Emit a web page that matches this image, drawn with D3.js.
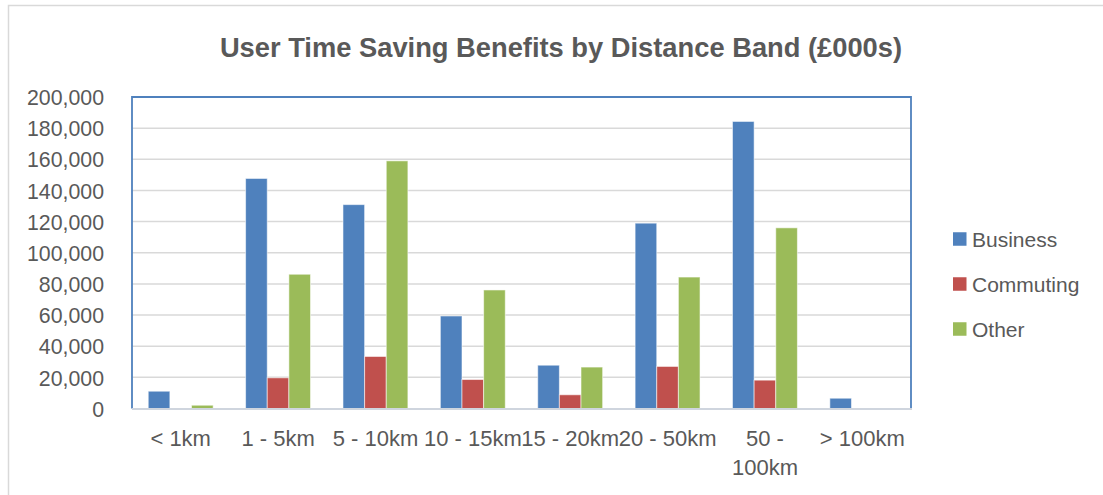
<!DOCTYPE html>
<html>
<head>
<meta charset="utf-8">
<script src="https://cdn.jsdelivr.net/npm/d3@7"></script>
<style>
  html, body { margin: 0; padding: 0; background: #fff; }
  svg { display: block; font-family: "Liberation Sans", Arial, sans-serif; }
</style>
</head>
<body>
<svg id="chart" width="1103" height="495"></svg>
<script>
// Distance bands and benefit values (£000s) per journey purpose
const categories = ["< 1km", "1 - 5km", "5 - 10km", "10 - 15km", "15 - 20km", "20 - 50km", "50 - 100km", "> 100km"];
const seriesNames = ["Business", "Commuting", "Other"];
const business  = [11100, 147700, 130900, 59400, 27800, 119000, 184300, 6600];
const commuting = [0, 19700, 33400, 18600, 8800, 27000, 18200, 0];
const other     = [2100, 86200, 159000, 76100, 26600, 84400, 116000, 0];
const yTicks = [0, 20000, 40000, 60000, 80000, 100000, 120000, 140000, 160000, 180000, 200000];
const colors = ["#4F81BD", "#C0504D", "#9BBB59"];

const seriesValues = [business, commuting, other];
const rows = categories.map((c, i) => ({
  category: c,
  values: seriesNames.map((s, j) => ({ series: s, value: seriesValues[j][i], color: colors[j] }))
}));

const svg = d3.select("#chart");
const textColor = "#595959";

// Outer chart border
svg.append("rect")
  .attr("x", 8.5).attr("y", 5.5)
  .attr("width", 1200).attr("height", 600)
  .attr("fill", "none").attr("stroke", "#d9d9d9").attr("stroke-width", 1.5);

const plot = { left: 132, right: 911, top: 97, bottom: 408.5 };

const x = d3.scaleBand()
  .domain(categories)
  .range([plot.left, plot.right])
  .paddingInner(1 / 3)
  .paddingOuter(1 / 6);

const xInner = d3.scaleBand()
  .domain(seriesNames)
  .range([0, x.bandwidth()]);

const y = d3.scaleLinear()
  .domain([0, 200000])
  .range([plot.bottom, plot.top]);

// Title
svg.append("text")
  .attr("x", 561).attr("y", 57)
  .attr("text-anchor", "middle")
  .attr("font-size", 27.3).attr("font-weight", "bold")
  .attr("fill", textColor)
  .text("User Time Saving Benefits by Distance Band (£000s)");

// Gridlines
svg.append("g")
  .selectAll("line")
  .data(yTicks.filter(t => t > 0))
  .join("line")
  .attr("x1", plot.left).attr("x2", plot.right)
  .attr("y1", d => y(d)).attr("y2", d => y(d))
  .attr("stroke", "#d9d9d9").attr("stroke-width", 1.5);

// Y axis labels
const yAxis = d3.axisLeft(y)
  .tickValues(yTicks)
  .tickFormat(d3.format(","))
  .tickSize(0)
  .tickPadding(0);
const yG = svg.append("g")
  .attr("transform", `translate(104,0)`)
  .call(yAxis);
yG.select(".domain").remove();
yG.selectAll("text")
  .attr("font-size", 21.3)
  .attr("font-family", "Liberation Sans, Arial, sans-serif")
  .attr("fill", textColor)
  .attr("dy", "0.36em");

// Bars
const groups = svg.append("g")
  .selectAll("g")
  .data(rows)
  .join("g")
  .attr("transform", d => `translate(${x(d.category)},0)`);

groups.selectAll("rect")
  .data(d => d.values.filter(v => v.value > 0))
  .join("rect")
  .attr("x", d => xInner(d.series))
  .attr("y", d => y(d.value))
  .attr("width", xInner.bandwidth())
  .attr("height", d => y(0) - y(d.value))
  .attr("fill", d => d.color)
  .attr("stroke", "rgba(255,255,255,0.55)")
  .attr("stroke-width", 1);

// Plot frame: blue left/top/right, grey baseline
svg.append("path")
  .attr("d", `M${plot.left},${plot.bottom}V${plot.top}H${plot.right}V${plot.bottom}`)
  .attr("fill", "none").attr("stroke", "#4F81BD").attr("stroke-width", 1.8);
svg.append("line")
  .attr("x1", plot.left).attr("x2", plot.right + 1)
  .attr("y1", plot.bottom + 0.5).attr("y2", plot.bottom + 0.5)
  .attr("stroke", "#cfd5de").attr("stroke-width", 2.2);

// X axis labels, wrapped when wider than the band step
const xAxis = d3.axisBottom(x).tickSize(0).tickPadding(0);
const xG = svg.append("g")
  .attr("transform", `translate(0,${plot.bottom})`)
  .call(xAxis);
xG.select(".domain").remove();
xG.selectAll("text")
  .attr("font-size", 22)
  .attr("font-family", "Liberation Sans, Arial, sans-serif")
  .attr("fill", textColor)
  .attr("y", 37.5)
  .attr("dy", 0)
  .each(function () {
    const t = d3.select(this);
    const words = t.text().split(" ");
    const maxW = x.step() + 3;
    t.text(null);
    let line = [];
    let tspan = t.append("tspan").attr("x", 0).attr("dy", 0);
    for (const w of words) {
      line.push(w);
      tspan.text(line.join(" "));
      if (tspan.node().getComputedTextLength() > maxW && line.length > 1) {
        line.pop();
        tspan.text(line.join(" "));
        line = [w];
        tspan = t.append("tspan").attr("x", 0).attr("dy", 29).text(w);
      }
    }
  });

// Legend
const legend = svg.append("g")
  .selectAll("g")
  .data(seriesNames)
  .join("g")
  .attr("transform", (d, i) => `translate(953,${239 + i * 45})`);
legend.append("rect")
  .attr("x", 0).attr("y", -6.75)
  .attr("width", 13.5).attr("height", 13.5)
  .attr("fill", (d, i) => colors[i]);
legend.append("text")
  .attr("x", 19).attr("y", 7.5)
  .attr("font-size", 21)
  .attr("fill", textColor)
  .text(d => d);
</script>
</body>
</html>
